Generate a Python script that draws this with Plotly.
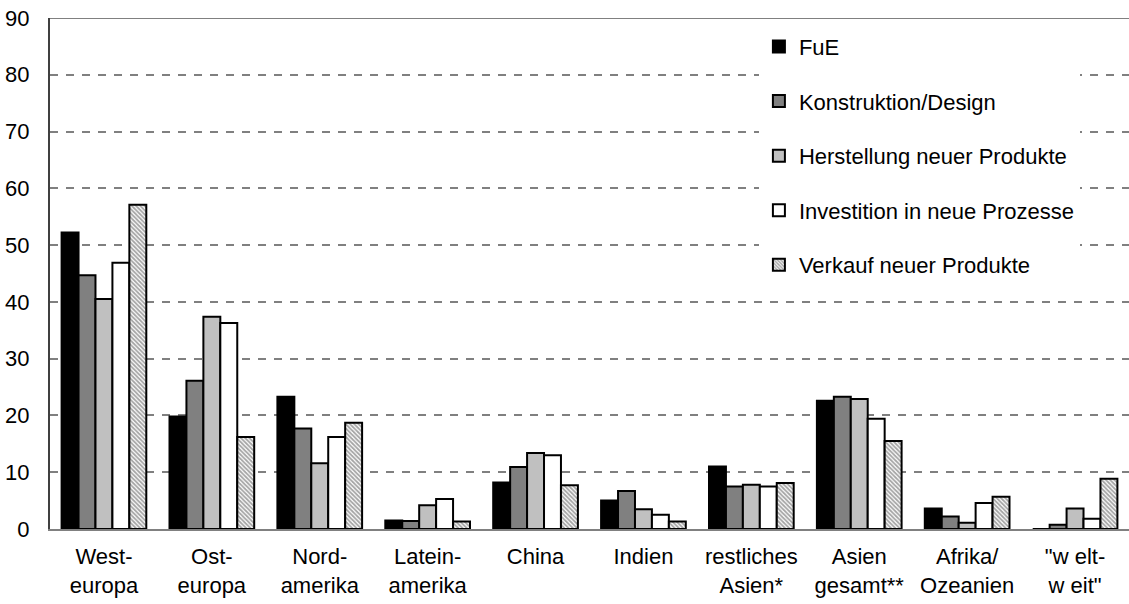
import plotly.graph_objects as go

categories = ["West-<br>europa", "Ost-<br>europa", "Nord-<br>amerika", "Latein-<br>amerika", "China",
              "Indien", "restliches<br>Asien*", "Asien<br>gesamt**", "Afrika/<br>Ozeanien", "\"w elt-<br>w eit\""]
fue = [52.2, 19.8, 23.3, 1.5, 8.2, 5.0, 11.0, 22.6, 3.6, 0]
konstruktion = [44.7, 26.1, 17.7, 1.4, 10.9, 6.7, 7.5, 23.3, 2.2, 0.75]
herstellung = [40.5, 37.4, 11.6, 4.2, 13.4, 3.5, 7.8, 22.9, 1.1, 3.6]
investition = [46.9, 36.3, 16.2, 5.3, 13.0, 2.5, 7.5, 19.4, 4.6, 1.8]
verkauf = [57.1, 16.2, 18.7, 1.3, 7.7, 1.3, 8.1, 15.5, 5.7, 8.85]
y_ticks = [0, 10, 20, 30, 40, 50, 60, 70, 80, 90]

FONT = "Liberation Sans, Arial, sans-serif"
fig = go.Figure()
series = [
    ("FuE", fue, "#000000", None),
    ("Konstruktion/Design", konstruktion, "#808080", None),
    ("Herstellung neuer Produkte", herstellung, "#C0C0C0", None),
    ("Investition in neue Prozesse", investition, "#FFFFFF", None),
    ("Verkauf neuer Produkte", verkauf, "#FFFFFF", dict(shape="\\", fgcolor="#4A4A4A", bgcolor="#FFFFFF", size=3, solidity=0.6)),
]
for i, (name, vals, col, pat) in enumerate(series):
    marker = dict(color=col, line=dict(color="#000000", width=2))
    if pat:
        marker["pattern"] = pat
    fig.add_trace(go.Bar(name=name, x=categories, y=vals, marker=marker, legendgroup=f"g{i}"))

fig.update_layout(
    width=1129, height=604,
    margin=dict(l=50, r=0, t=18, b=75, autoexpand=False),
    barmode="group", bargap=0.215, bargroupgap=0,
    plot_bgcolor="white", paper_bgcolor="white",
    font=dict(family=FONT, size=22, color="#000000"),
    legend=dict(x=0.657, y=0.985, xanchor="left", yanchor="top", bgcolor="#FFFFFF",
                tracegroupgap=23, font=dict(size=22), itemwidth=30),
    xaxis=dict(showgrid=False, showline=True, linecolor="#808080", linewidth=2,
               ticks="", tickfont=dict(size=22), ticklabelstandoff=7),
    yaxis=dict(range=[0, 90], tickvals=y_ticks, showgrid=True, gridcolor="#808080", gridwidth=2,
               griddash="8px,8px", showline=True, linecolor="#404040", linewidth=2,
               ticks="", ticklabelstandoff=14, zeroline=False, tickfont=dict(size=22)),
)
fig.add_shape(type="line", xref="paper", yref="y", x0=0, x1=1, y0=90, y1=90,
              line=dict(color="#808080", width=2))
fig.write_html("out.html", config={"displayModeBar": False},
               post_script="document.body.style.margin='0';")
